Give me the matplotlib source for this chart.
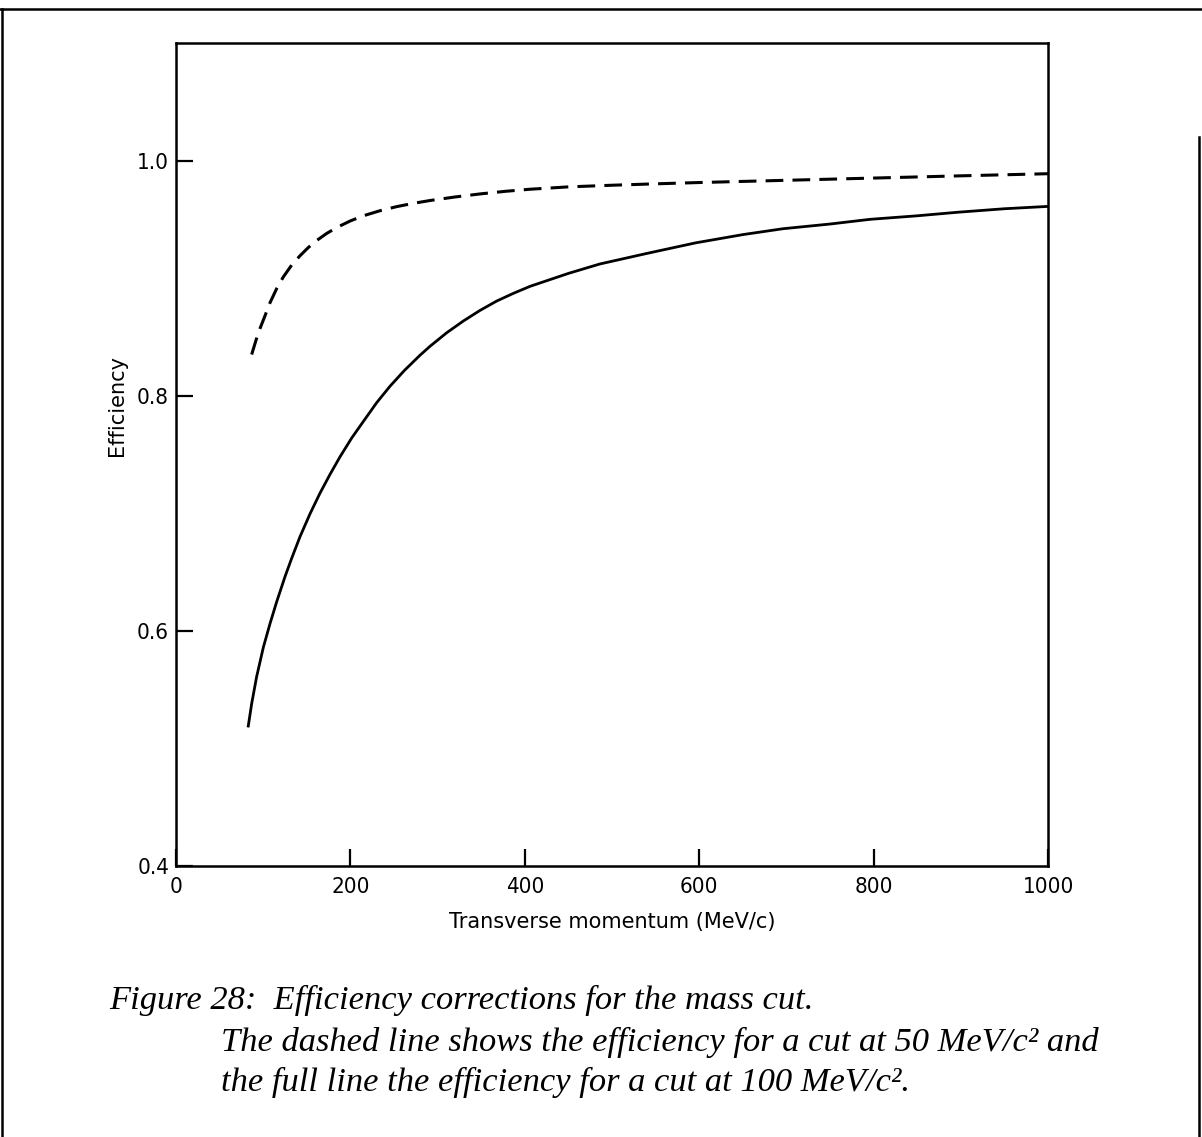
import matplotlib
matplotlib.use("Agg")
import matplotlib.pyplot as plt
from matplotlib.lines import Line2D

# efficiency vs transverse momentum, cut at 50 MeV/c^2 (dashed)
pt_50 = [86.8, 91.7, 96.3, 102.1, 107.8, 115.4, 123.1, 132.6, 142.2, 151.7,
         161.4, 172.8, 184.3, 199.5, 214.8, 233.9, 253.1, 272.1, 291.3, 319.9,
         348.6, 377.3, 406.0, 450.0, 500.0, 550.0, 600.0, 700.0, 800.0, 900.0,
         1000.0]
eff_50 = [0.835, 0.847, 0.857, 0.868, 0.879, 0.891, 0.901, 0.911, 0.919, 0.926,
          0.932, 0.938, 0.943, 0.9485, 0.9530, 0.9573, 0.9608, 0.9636, 0.9660, 0.9690,
          0.9716, 0.9738, 0.9756, 0.9776, 0.9790, 0.9802, 0.9813, 0.9832, 0.9851,
          0.9870, 0.9888]

# efficiency vs transverse momentum, cut at 100 MeV/c^2 (full)
pt_100 = [82.9, 86.8, 92.5, 100.2, 107.8, 115.4, 125.0, 132.6, 142.2, 153.7,
          165.1, 176.6, 188.1, 201.5, 214.8, 230.1, 245.4, 262.0, 280.0, 291.3,
          310.4, 329.5, 348.6, 367.8, 386.8, 406.0, 450.0, 486.0, 540.0, 596.0,
          650.0, 696.0, 750.0, 796.0, 850.0, 896.0, 950.0, 1000.0]
eff_100 = [0.519, 0.538, 0.561, 0.586, 0.606, 0.6245, 0.646, 0.6615, 0.680, 0.6995,
           0.717, 0.733, 0.748, 0.764, 0.778, 0.794, 0.808, 0.8215, 0.8345, 0.842,
           0.8535, 0.8635, 0.8725, 0.8805, 0.887, 0.893, 0.904, 0.912, 0.921, 0.930,
           0.937, 0.942, 0.946, 0.950, 0.953, 0.956, 0.959, 0.961]

x_ticks = [0, 200, 400, 600, 800, 1000]
y_ticks = [0.4, 0.6, 0.8, 1.0]

tick_font = ['DejaVu Sans']
label_font = ['DejaVu Sans']
caption_font = 'Liberation Serif'

fig = plt.figure(figsize=(12.02, 11.37), dpi=100)
ax = fig.add_axes([0.1464, 0.2384, 0.7255, 0.7238])

ax.plot(pt_50, eff_50, color='black', lw=2.2, linestyle=(0, (5.8, 3.0)),
        dash_capstyle='butt')
ax.plot(pt_100, eff_100, color='black', lw=2.0)

ax.set_xlim(0, 1000)
ax.set_ylim(0.4, 1.1)
ax.set_xticks(x_ticks)
ax.set_yticks(y_ticks)
ax.set_xticklabels([str(t) for t in x_ticks], family=tick_font, fontsize=16,
                   fontstretch='condensed')
ax.set_yticklabels(['%.1f' % t for t in y_ticks], family=tick_font, fontsize=16,
                   fontstretch='condensed')
ax.tick_params(axis='both', direction='in', length=12, width=1.6)
ax.tick_params(axis='x', pad=8)
ax.tick_params(axis='y', pad=5)
for s in ax.spines.values():
    s.set_linewidth(1.8)

ax.set_xlabel('Transverse momentum (MeV/c)', family=label_font, fontsize=15, labelpad=11)
ax.set_ylabel('Efficiency', family=label_font, fontsize=15)
ax.yaxis.set_label_coords(-0.056, 0.56)

# caption under the plot
cap = dict(family=caption_font, style='italic', fontsize=24.8, va='center', ha='left')
fig.text(109 / 1202, 1 - 1000 / 1137, 'Figure 28:  Efficiency corrections for the mass cut.', **cap)
fig.text(221 / 1202, 1 - 1042 / 1137,
         'The dashed line shows the efficiency for a cut at 50 MeV/c\u00b2 and', **cap)
fig.text(221 / 1202, 1 - 1082 / 1137,
         'the full line the efficiency for a cut at 100 MeV/c\u00b2.', **cap)

# page frame
fig.add_artist(Line2D([0, 1], [1 - 9 / 1137] * 2, color='black', lw=1.8))
fig.add_artist(Line2D([2 / 1202] * 2, [0, 1 - 9 / 1137], color='black', lw=1.8))
fig.add_artist(Line2D([1199 / 1202] * 2, [0, 1 - 137 / 1137], color='black', lw=1.8))

fig.savefig('out.png', dpi=100)
